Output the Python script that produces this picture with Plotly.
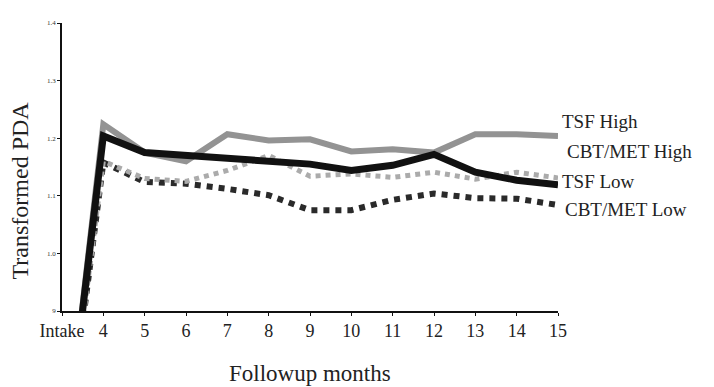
import plotly.graph_objects as go

months = ["Intake", "4", "5", "6", "7", "8", "9", "10", "11", "12", "13", "14", "15"]
tsf_high = [0.60, 1.224, 1.175, 1.160, 1.207, 1.196, 1.198, 1.177, 1.181, 1.175, 1.207, 1.207, 1.204]
tsf_low = [0.60, 1.204, 1.175, 1.170, 1.168, 1.161, 1.155, 1.144, 1.153, 1.172, 1.141, 1.127, 1.119]
cbt_high = [0.60, 1.160, 1.130, 1.125, 1.144, 1.170, 1.134, 1.138, 1.132, 1.141, 1.129, 1.141, 1.131]
cbt_low = [0.60, 1.158, 1.124, 1.121, 1.112, 1.101, 1.075, 1.075, 1.093, 1.104, 1.096, 1.095, 1.084]
series_names = ["TSF High", "CBT/MET High", "TSF Low", "CBT/MET Low"]
y_ticks = [0.9, 1.0, 1.1, 1.2, 1.3, 1.4]
y_tick_text = ["9", "1.0", "1.1", "1.2", "1.3", "1.4"]

serif = "Liberation Serif, Times New Roman, serif"

fig = go.Figure()
fig.add_trace(go.Scatter(x=months, y=cbt_low, mode="lines", name=series_names[3],
                         line=dict(color="#2a2a2a", width=6, dash="dot")))
fig.add_trace(go.Scatter(x=months, y=cbt_high, mode="lines", name=series_names[1],
                         line=dict(color="#ababab", width=5, dash="dot")))
fig.add_trace(go.Scatter(x=months, y=tsf_high, mode="lines", name=series_names[0],
                         line=dict(color="#939393", width=6)))
fig.add_trace(go.Scatter(x=months, y=tsf_low, mode="lines", name=series_names[2],
                         line=dict(color="#111111", width=7)))

label_y = [tsf_high[-1] + 0.025, cbt_high[-1] + 0.046, tsf_low[-1] + 0.005, cbt_low[-1] - 0.008]
label_dx = [2, 7, 2, 5]
for name, ly, dx in zip(series_names, label_y, label_dx):
    fig.add_annotation(x=1, xref="paper", y=ly, yref="y", text=name, showarrow=False,
                       xanchor="left", xshift=dx, font=dict(family=serif, size=19, color="#222"))

fig.add_annotation(x=-0.085, xref="paper", y=0.418, yref="paper", text="Transformed PDA",
                   textangle=-90, showarrow=False, xanchor="center", yanchor="middle",
                   font=dict(family=serif, size=24, color="#222"))
fig.add_annotation(x=0.5, xref="paper", y=-0.216, yref="paper", text="Followup months",
                   showarrow=False, xanchor="center", yanchor="middle",
                   font=dict(family=serif, size=23, color="#222"))

fig.update_layout(
    width=706, height=379,
    margin=dict(l=54, r=156, t=11, b=76),
    paper_bgcolor="white", plot_bgcolor="white",
    showlegend=False,
    xaxis=dict(type="category", range=[0, 12], showgrid=False, zeroline=False,
               showline=True, linecolor="#111", linewidth=1.5,
               ticks="outside", ticklen=3, tickcolor="#111",
               tickfont=dict(family=serif, size=18, color="#222")),
    yaxis=dict(range=[0.9, 1.4], tickvals=y_ticks, ticktext=y_tick_text, showgrid=False,
               zeroline=False, showline=True, linecolor="#111", linewidth=1.5,
               ticks="outside", ticklen=3, tickcolor="#111",
               tickfont=dict(family=serif, size=7, color="#333")),
)

fig.write_html("out.html")
